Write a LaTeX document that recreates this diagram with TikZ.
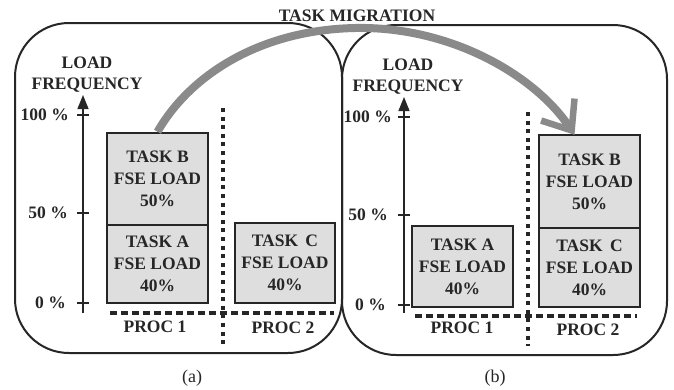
\documentclass[tikz,border=0pt]{standalone}
\usepackage{fontspec}
\setmainfont{Liberation Serif}
\usetikzlibrary{arrows.meta}
\definecolor{boxfill}{HTML}{DEDEDE}
\definecolor{migrgray}{HTML}{8A8A8A}
\definecolor{ink}{HTML}{262626}
\begin{document}
\begin{tikzpicture}[x=1pt,y=-1pt,
  every node/.style={font=\fontsize{17.5}{22}\selectfont\bfseries, text=ink},
  lbl/.style={inner sep=0pt},
  panel/.style={draw=ink, line width=2pt, rounded corners=54pt},
  task/.style={draw=ink, fill=boxfill, line width=2.5pt, align=center, inner sep=0pt, minimum width=101pt},
  axis/.style={draw=ink, line width=1.3pt, -{Triangle[length=14pt,width=11pt]}},
  tickmark/.style={draw=ink, line width=1.3pt},
  sepline/.style={draw=ink, line width=3.6pt, dash pattern=on 4pt off 4.6pt},
  baseline/.style={draw=ink, line width=3.6pt, dash pattern=on 6.5pt off 4.5pt},
  migr/.style={draw=migrgray, line width=8pt, -{Straight Barb[length=25pt,width=40pt,line width=6.5pt]}},
  caption/.style={font=\fontsize{18}{20}\selectfont, inner sep=0pt},
]
\useasboundingbox[fill=white] (0,0) rectangle (674,389);

% panels
\draw[panel] (15,23) rectangle (342,353);
\draw[panel] (342,25) rectangle (667,355);

% ---------- panel (a) ----------
\node[lbl] (loadA) at (87,63) {LOAD};
\node[lbl] (freqA) at (87,85) {FREQUENCY};
\coordinate (axA0) at (83,313);
\coordinate (axA1) at (83,95);
\draw[axis] (axA0) -- (axA1);
\coordinate (tA100l) at (77,115); \coordinate (tA100r) at (89,115);
\coordinate (tA50l) at (77,213);  \coordinate (tA50r) at (89,213);
\coordinate (tA0l) at (77,303);   \coordinate (tA0r) at (89,303);
\draw[tickmark] (tA100l) -- (tA100r);
\draw[tickmark] (tA50l) -- (tA50r);
\draw[tickmark] (tA0l) -- (tA0r);
\node[lbl, anchor=east] (pA100) at (69,115) {100 \%};
\node[lbl, anchor=east] (pA50) at (68,213) {50 \%};
\node[lbl, anchor=east] (pA0) at (66,303) {0 \%};

\node[task, minimum height=92pt] (Ba) at (157.5,179) {TASK B\\FSE LOAD\\50\%};
\node[task, minimum height=78pt] (Aa) at (157.5,264) {TASK A\\FSE LOAD\\40\%};
\node[task, minimum width=100pt, minimum height=80pt] (Ca) at (285,263) {TASK\, C\\FSE LOAD\\40\%};

\coordinate (sepA0) at (223,108); \coordinate (sepA1) at (223,345);
\draw[sepline] (sepA0) -- (sepA1);
\coordinate (baseA0) at (110,313); \coordinate (baseA1) at (334,313);
\draw[baseline] (baseA0) -- (baseA1);
\node[lbl] (p1a) at (155,327) {PROC 1};
\node[lbl] (p2a) at (283,328) {PROC 2};
\node[caption] (capa) at (192,378) {(a)};

% ---------- panel (b) ----------
\node[lbl] (loadB) at (408,65) {LOAD};
\node[lbl] (freqB) at (408,87) {FREQUENCY};
\coordinate (axB0) at (404,313);
\coordinate (axB1) at (404,97);
\draw[axis] (axB0) -- (axB1);
\coordinate (tB100l) at (398,117); \coordinate (tB100r) at (410,117);
\coordinate (tB50l) at (398,215);  \coordinate (tB50r) at (410,215);
\coordinate (tB0l) at (398,305);   \coordinate (tB0r) at (410,305);
\draw[tickmark] (tB100l) -- (tB100r);
\draw[tickmark] (tB50l) -- (tB50r);
\draw[tickmark] (tB0l) -- (tB0r);
\node[lbl, anchor=east] (pB100) at (392,117) {100 \%};
\node[lbl, anchor=east] (pB50) at (388,215) {50 \%};
\node[lbl, anchor=east] (pB0) at (386,305) {0 \%};

\node[task, minimum height=81pt] (Ab) at (462.5,266.5) {TASK A\\FSE LOAD\\40\%};
\node[task, minimum height=79pt] (Cb) at (589.5,267.5) {TASK\, C\\FSE LOAD\\40\%};
\node[task, minimum height=93pt] (Bb) at (589.5,181.5) {TASK B\\FSE LOAD\\50\%};

\coordinate (sepB0) at (528,112); \coordinate (sepB1) at (528,346);
\draw[sepline] (sepB0) -- (sepB1);
\coordinate (baseB0) at (415,316); \coordinate (baseB1) at (637,316);
\draw[baseline] (baseB0) -- (baseB1);
\node[lbl] (p1b) at (462,328) {PROC 1};
\node[lbl] (p2b) at (588,330) {PROC 2};
\node[caption] (capb) at (495,378) {(b)};

% ---------- migration arrow ----------
\coordinate (mtop) at (355,28);
\coordinate (mend) at ([xshift=-15pt,yshift=-1pt]Bb.north);
\draw[migr] (Ba.north) .. controls (190,75) and (260,30) .. (mtop)
   .. controls (450,26) and (535,75) .. (mend);
\node[lbl] (migtitle) at (357,16) {TASK MIGRATION};
\end{tikzpicture}
\end{document}
